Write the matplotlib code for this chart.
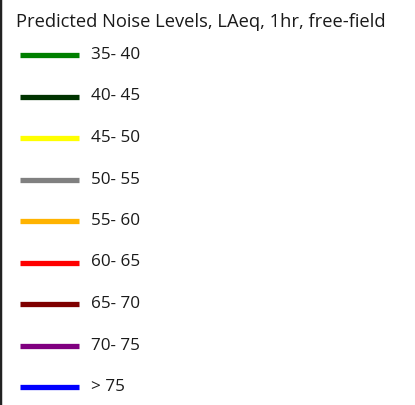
import matplotlib
matplotlib.use('Agg')
import matplotlib.pyplot as plt

# legend classes for predicted noise levels
title = 'Predicted Noise Levels, LAeq, 1hr, free-field'
labels = ['35- 40', '40- 45', '45- 50', '50- 55', '55- 60',
          '60- 65', '65- 70', '70- 75', '> 75']
colours = ['#008000', '#003300', '#ffff00', '#808080', '#ffb300',
           '#ff0000', '#7f0000', '#800080', '#0000ff']

W, H = 415, 405
plt.rcParams['font.family'] = ['Open Sans', 'DejaVu Sans']

fig = plt.figure(figsize=(W / 100, H / 100), dpi=100)
ax = fig.add_axes([0, 0, 1, 1])
ax.set_xlim(0, W)
ax.set_ylim(H, 0)
ax.set_xticks([])
ax.set_yticks([])
for side in ['top', 'right', 'bottom']:
    ax.spines[side].set_visible(False)
ax.spines['left'].set_color('#222222')
ax.spines['left'].set_linewidth(2.5)

ax.text(16, 22, title, fontsize=13.2, color='#1a1a1a', va='center', ha='left')

# one swatch + label per class
row0, step = 55, 41.5
for i, (lab, col) in enumerate(zip(labels, colours)):
    y = row0 + i * step
    ax.plot([20, 79], [y, y], color=col, lw=3.8, solid_capstyle='butt')
    ax.text(91, y, lab, fontsize=12.3, color='#1a1a1a', va='center', ha='left')

fig.savefig('out.png', dpi=100)
